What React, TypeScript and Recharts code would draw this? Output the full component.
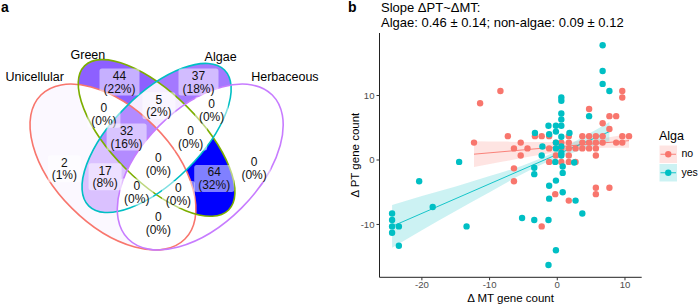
import React from 'react';
import { ScatterChart, ComposedChart, Scatter, Line, Area, XAxis, YAxis } from 'recharts';

// ---------- panel a: four-set Venn (ellipses in unit coordinates) ----------
const setNames = ['Unicellular', 'Green', 'Algae', 'Herbaceous'];
const setKeys = ['U', 'G', 'A', 'H'];
const setColors = ['#F8766D', '#7CAE00', '#00BFC4', '#C77CFF'];
const setCx = [0.35, 0.5, 0.5, 0.65];
const setCy = [0.47, 0.57, 0.57, 0.47];
const setA = [0.35, 0.35, 0.33, 0.35];
const setB = [0.2, 0.15, 0.15, 0.2];
const setAngle = [135, 135, 45, 45];
const setLabelX = [0.081, 0.264, 0.72, 0.941];
const setLabelY = [0.78, 0.858, 0.85, 0.779];

const regionKeys = ['G', 'A', 'GA', 'UG', 'AH', 'UGA', 'GAH', 'U', 'UA', 'UGAH', 'GH', 'H', 'UAH', 'UGH', 'UH'];
const regionCounts = [44, 37, 5, 0, 0, 32, 0, 2, 17, 0, 64, 0, 0, 0, 0];
const regionLabelX = [0.3725, 0.644, 0.508, 0.319, 0.689, 0.397, 0.617, 0.183, 0.323, 0.506, 0.698, 0.835, 0.432, 0.575, 0.506];
const regionLabelY = [0.762, 0.762, 0.681, 0.651, 0.664, 0.573, 0.573, 0.464, 0.437, 0.481, 0.431, 0.466, 0.384, 0.376, 0.277];

// ---------- panel b: scatter + lm fits ----------
const noX = [-8.4, -11.4, 9.6, 9.6, 4.7, 7.7, 8.7, 6.7, 7.7, -7.3, -3.3, -2.3, -1.2, 1.7, 3.7, 4.7, 5.7, 6.7, 9.6, 10.6,
  -12.3, -5.4, -0.2, 0.6, 1.7, 3.7, 4.7, 5.7, 6.7, 8.7, 9.6, -6.4, -4.4, -1.2, 0.6, 1.7, 2.7, 3.7, 4.7, 5.7,
  -5.4, -0.2, 1.7, 5.7, -1.2, 0.6, 1.7, 2.7, -6.4, -6.4, 5.7, 7.7, -0.3, 5.7, 1.7, -2.3];
const noY = [10.7, 8.8, 10.7, 9.7, 7.9, 6.8, 6.8, 5.7, 4.8, 3.7, 3.7, 3.7, 3.7, 3.7, 3.7, 3.7, 3.7, 3.7, 3.7, 3.7,
  2.7, 2.7, 2.7, 2.7, 2.7, 2.7, 2.7, 2.7, 2.7, 2.7, 2.7, 1.8, 1.8, 1.8, 1.8, 1.8, 1.8, 1.8, 1.8, 1.8,
  0.7, 0.7, 0.7, 0.7, -0.3, -0.3, -0.3, -0.3, -1.3, -3.3, -4.3, -4.3, -5.3, -5.3, -6.3, -10.3];
const yesX = [6.7, 6.7, 6.7, 7.7, 0.6, 0.6, 0.6, 0.6, 4.7, -1.3, -0.2, 0.6, -0.2, -3.3, -1.2, 1.8, 0.6, -2.2, -0.2, -0.2,
  0.6, 0.6, 0.6, -2.3, -0.3, 2.5, -14.5, 0.8, 0.8, -3.4, -3.4, -0.2, -20.4, -1.2, 0.8, -1.2, 2.7, -18.4, 3.7, -24.4,
  -24.4, -24.4, -24.4, -23.4, -23.4, -13.4, -5.2, -3.4, -1.3, -0.2, -1.3];
const yesY = [17.8, 13.8, 11.8, 10.7, 9.7, 9.2, 7.2, 6.3, 6.8, 5.3, 5.3, 5.3, 4.4, 4.2, 4.0, 4.2, 3.6, 2.1, 2.7, 1.8,
  2.1, 1.1, 0.7, 0.7, -0.3, -0.4, -0.3, -1.0, -2.0, -1.2, -2.2, -3.2, -3.3, -4.0, -5.0, -6.0, -6.3, -7.3, -8.3, -8.3,
  -9.3, -10.3, -11.3, -10.3, -13.3, -10.3, -9.0, -9.3, -9.3, -14.0, -16.3];

const noFitX = [-12.3, 10.6];
const noFitY = [0.9, 3.0];
const noBandX = [-12.3, -8, -4, 0, 3.5, 7, 10.6];
const noBandLo = [-1.1, -0.25, 0.55, 1.25, 1.7, 1.9, 1.9];
const noBandHi = [2.9, 2.85, 2.8, 2.8, 2.95, 3.4, 4.1];

const yesFitX = [-24.4, 7.7];
const yesFitY = [-10.3, 4.4];
const yesBandX = [-24.4, -20, -15, -10, -5, -2, 0, 4, 7.7];
const yesBandLo = [-13.6, -10.9, -7.9, -5.0, -2.1, -0.55, 0.3, 1.7, 2.9];
const yesBandHi = [-7.0, -5.6, -4.1, -2.5, -0.8, 0.45, 1.45, 3.7, 5.9];

const xTicks = [-20, -10, 0, 10];
const yTicks = [-10, 0, 10];

const RED = '#F8766D';
const TEAL = '#00BFC4';
const FONT = '"Liberation Sans", Arial, Helvetica, sans-serif';

// ---------- colour scale: white -> blue, interpolated in Lab like ggplot ----------
const lin = (c: number) => { c /= 255; return c <= 0.04045 ? c / 12.92 : Math.pow((c + 0.055) / 1.055, 2.4); };
const gam = (c: number) => {
  const v = c <= 0.0031308 ? 12.92 * c : 1.055 * Math.pow(c, 1 / 2.4) - 0.055;
  return Math.round(Math.max(0, Math.min(1, v)) * 255);
};
const fLab = (t: number) => (t > 216 / 24389 ? Math.cbrt(t) : (24389 / 27 * t + 16) / 116);
const fInv = (t: number) => (t * t * t > 216 / 24389 ? t * t * t : (116 * t - 16) / (24389 / 27));
const WP = [0.95047, 1, 1.08883];
const toLab = (hex: string) => {
  const r = lin(parseInt(hex.slice(1, 3), 16));
  const g = lin(parseInt(hex.slice(3, 5), 16));
  const b = lin(parseInt(hex.slice(5, 7), 16));
  const X = (0.4124 * r + 0.3576 * g + 0.1805 * b) / WP[0];
  const Y = (0.2126 * r + 0.7152 * g + 0.0722 * b) / WP[1];
  const Z = (0.0193 * r + 0.1192 * g + 0.9505 * b) / WP[2];
  return [116 * fLab(Y) - 16, 500 * (fLab(X) - fLab(Y)), 200 * (fLab(Y) - fLab(Z))];
};
const fromLab = ([L, a, b]: number[]) => {
  const fy = (L + 16) / 116;
  const X = fInv(fy + a / 500) * WP[0];
  const Y = fInv(fy) * WP[1];
  const Z = fInv(fy - b / 200) * WP[2];
  const r = 3.2406 * X - 1.5372 * Y - 0.4986 * Z;
  const g = -0.9689 * X + 1.8758 * Y + 0.0415 * Z;
  const bl = 0.0557 * X - 0.204 * Y + 1.057 * Z;
  return `rgb(${gam(r)},${gam(g)},${gam(bl)})`;
};
const LOW = toLab('#FFFFFF');
const HIGH = toLab('#0000FF');
const maxCount = Math.max(...regionCounts);
const countColor = (n: number) => {
  const t = n / maxCount;
  return fromLab(LOW.map((v, i) => v + (HIGH[i] - v) * t));
};
const total = regionCounts.reduce((s, v) => s + v, 0);

// ---------- derived series ----------
const setData = setKeys.map((k, i) => ({
  x: setCx[i], y: setCy[i], key: k, a: setA[i], b: setB[i], angle: setAngle[i], color: setColors[i],
}));
const setLabelData = setNames.map((n, i) => ({ x: setLabelX[i], y: setLabelY[i], name: n }));
const regionData = regionKeys.map((k, i) => ({
  x: regionLabelX[i], y: regionLabelY[i], key: k, count: regionCounts[i], fill: countColor(regionCounts[i]),
}));

const noPoints = noX.map((x, i) => ({ x, y: noY[i] }));
const yesPoints = yesX.map((x, i) => ({ x, y: yesY[i] }));
const noFit = noFitX.map((x, i) => ({ x, y: noFitY[i] }));
const yesFit = yesFitX.map((x, i) => ({ x, y: yesFitY[i] }));
const noBand = noBandX.map((x, i) => ({ x, band: [noBandLo[i], noBandHi[i]] }));
const yesBand = yesBandX.map((x, i) => ({ x, band: [yesBandLo[i], yesBandHi[i]] }));

// ---------- Venn geometry ----------
const VENN_W = 380;
const VENN_H = 305;
const vennXDomain: [number, number] = [-0.0381, 1.2677];
const vennYDomain: [number, number] = [-0.0041, 1.044];
const unitPx = VENN_W / (vennXDomain[1] - vennXDomain[0]);

const SetEllipse = (props: any) => {
  const { cx, cy, payload } = props;
  const id = `ell-${payload.key}`;
  return (
    <g>
      <defs>
        <ellipse id={id} cx={cx} cy={cy} rx={payload.a * unitPx} ry={payload.b * unitPx}
          transform={`rotate(${-payload.angle} ${cx} ${cy})`} />
        <clipPath id={`clip-${payload.key}`}>
          <use href={`#${id}`} />
        </clipPath>
      </defs>
      <use href={`#${id}`} fill="none" stroke={payload.color} strokeWidth={1.6} />
    </g>
  );
};

const RegionFill = (props: any) => {
  const { payload } = props;
  if (!payload.count) return <g />;
  const inc = payload.key.split('');
  const exc = setKeys.filter((k) => !inc.includes(k));
  const maskId = `mask-${payload.key}`;
  let node: React.ReactElement = (
    <rect x={0} y={0} width={VENN_W} height={VENN_H} fill={payload.fill} mask={`url(#${maskId})`} />
  );
  inc.forEach((k: string) => {
    node = <g clipPath={`url(#clip-${k})`}>{node}</g>;
  });
  return (
    <g>
      <defs>
        <mask id={maskId} maskUnits="userSpaceOnUse" x={0} y={0} width={VENN_W} height={VENN_H}>
          <rect x={0} y={0} width={VENN_W} height={VENN_H} fill="white" />
          {exc.map((k) => <use key={k} href={`#ell-${k}`} fill="black" />)}
        </mask>
      </defs>
      {node}
    </g>
  );
};

const RegionLabel = (props: any) => {
  const { cx, cy, payload } = props;
  const pct = Math.round((payload.count / total) * 100);
  const w = pct >= 10 ? 40 : 33;
  return (
    <g>
      <rect x={cx - w / 2} y={cy - 13.5} width={w} height={27} rx={2.5} fill="#fff" fillOpacity={0.5} />
      <text x={cx} y={cy - 6.3} dy="0.35em" textAnchor="middle" fontSize={12} fill="#111">{payload.count}</text>
      <text x={cx} y={cy + 6.5} dy="0.35em" textAnchor="middle" fontSize={12} fill="#111">({pct}%)</text>
    </g>
  );
};

const SetLabel = (props: any) => {
  const { cx, cy, payload } = props;
  return (
    <text x={cx} y={cy} dy="0.35em" textAnchor="middle" fontSize={12.5} fill="#000">{payload.name}</text>
  );
};

const dot = (color: string) => (props: any) => (
  <circle cx={props.cx} cy={props.cy} r={3.2} fill={color} />
);

const axisCommon = {
  type: 'number' as const,
  allowDataOverflow: true,
  tickSize: 3,
  axisLine: { stroke: '#222', strokeWidth: 1 },
  tickLine: { stroke: '#333' },
  tick: { fill: '#4d4d4d', fontSize: 9.6 },
};

export default function App() {
  return (
    <div style={{ position: 'absolute', left: 0, top: 0, width: 698, height: 305, background: '#fff', fontFamily: FONT }}>
      <div style={{ position: 'absolute', left: 0, top: 0 }}>
        <ScatterChart width={VENN_W} height={VENN_H} margin={{ top: 0, right: 0, bottom: 0, left: 0 }}>
          <XAxis type="number" dataKey="x" domain={vennXDomain} allowDataOverflow hide />
          <YAxis type="number" dataKey="y" domain={vennYDomain} allowDataOverflow hide />
          <Scatter data={regionData} shape={RegionFill} isAnimationActive={false} />
          <Scatter data={setData} shape={SetEllipse} isAnimationActive={false} />
          <Scatter data={setLabelData} shape={SetLabel} isAnimationActive={false} />
          <Scatter data={regionData} shape={RegionLabel} isAnimationActive={false} />
        </ScatterChart>
      </div>

      <div style={{ position: 'absolute', left: 330, top: 0 }}>
        <ComposedChart width={368} height={305} margin={{ top: 33, right: 56.3, bottom: 0, left: 0 }}>
          <XAxis {...axisCommon} tickMargin={1} dataKey="x" domain={[-26.26, 12.47]} ticks={xTicks} height={27.7}
            label={{ value: 'Δ MT gene count', position: 'insideBottom', offset: 3.5, fill: '#000', fontSize: 11.5 }} />
          <YAxis {...axisCommon} tickMargin={2} dataKey="y" domain={[-18.2, 19.7]} ticks={yTicks} width={49.5}
            label={{ value: 'Δ PT gene count', angle: -90, position: 'insideLeft', offset: 25, fill: '#000', fontSize: 11.5, style: { textAnchor: 'middle' } }} />
          <Scatter data={noPoints} fill={RED} shape={dot(RED)} isAnimationActive={false} />
          <Scatter data={yesPoints} fill={TEAL} shape={dot(TEAL)} isAnimationActive={false} />
          <Area data={noBand} dataKey="band" type="monotone" stroke="none" fill={RED} fillOpacity={0.2} isAnimationActive={false} />
          <Area data={yesBand} dataKey="band" type="monotone" stroke="none" fill={TEAL} fillOpacity={0.2} isAnimationActive={false} />
          <Line data={noFit} dataKey="y" stroke={RED} strokeWidth={0.9} dot={false} isAnimationActive={false} />
          <Line data={yesFit} dataKey="y" stroke={TEAL} strokeWidth={0.9} dot={false} isAnimationActive={false} />
        </ComposedChart>
      </div>

      <svg width={698} height={305} style={{ position: 'absolute', left: 0, top: 0, pointerEvents: 'none' }}>
        <text x={1} y={12} fontSize={14} fontWeight="bold" fill="#000">a</text>
        <text x={348} y={12} fontSize={14} fontWeight="bold" fill="#000">b</text>
        <text x={381} y={12} fontSize={13} fill="#000">Slope ΔPT~ΔMT:</text>
        <text x={381} y={27} fontSize={13} fill="#000">Algae: 0.46 ± 0.14; non-algae: 0.09 ± 0.12</text>
        <text x={659} y={140} fontSize={12.5} fill="#000">Alga</text>
        {[{ label: 'no', c: RED, y: 145.5, ty: 157.3 }, { label: 'yes', c: TEAL, y: 164, ty: 175.7 }].map((k) => (
          <g key={k.label}>
            <rect x={659.5} y={k.y} width={17.5} height={17.5} fill={k.c} fillOpacity={0.2} />
            <line x1={660.5} x2={676} y1={k.y + 8.75} y2={k.y + 8.75} stroke={k.c} strokeWidth={0.9} />
            <circle cx={668.25} cy={k.y + 8.75} r={3.2} fill={k.c} />
            <text x={681.5} y={k.ty} fontSize={10.5} fill="#000">{k.label}</text>
          </g>
        ))}
      </svg>
    </div>
  );
}
